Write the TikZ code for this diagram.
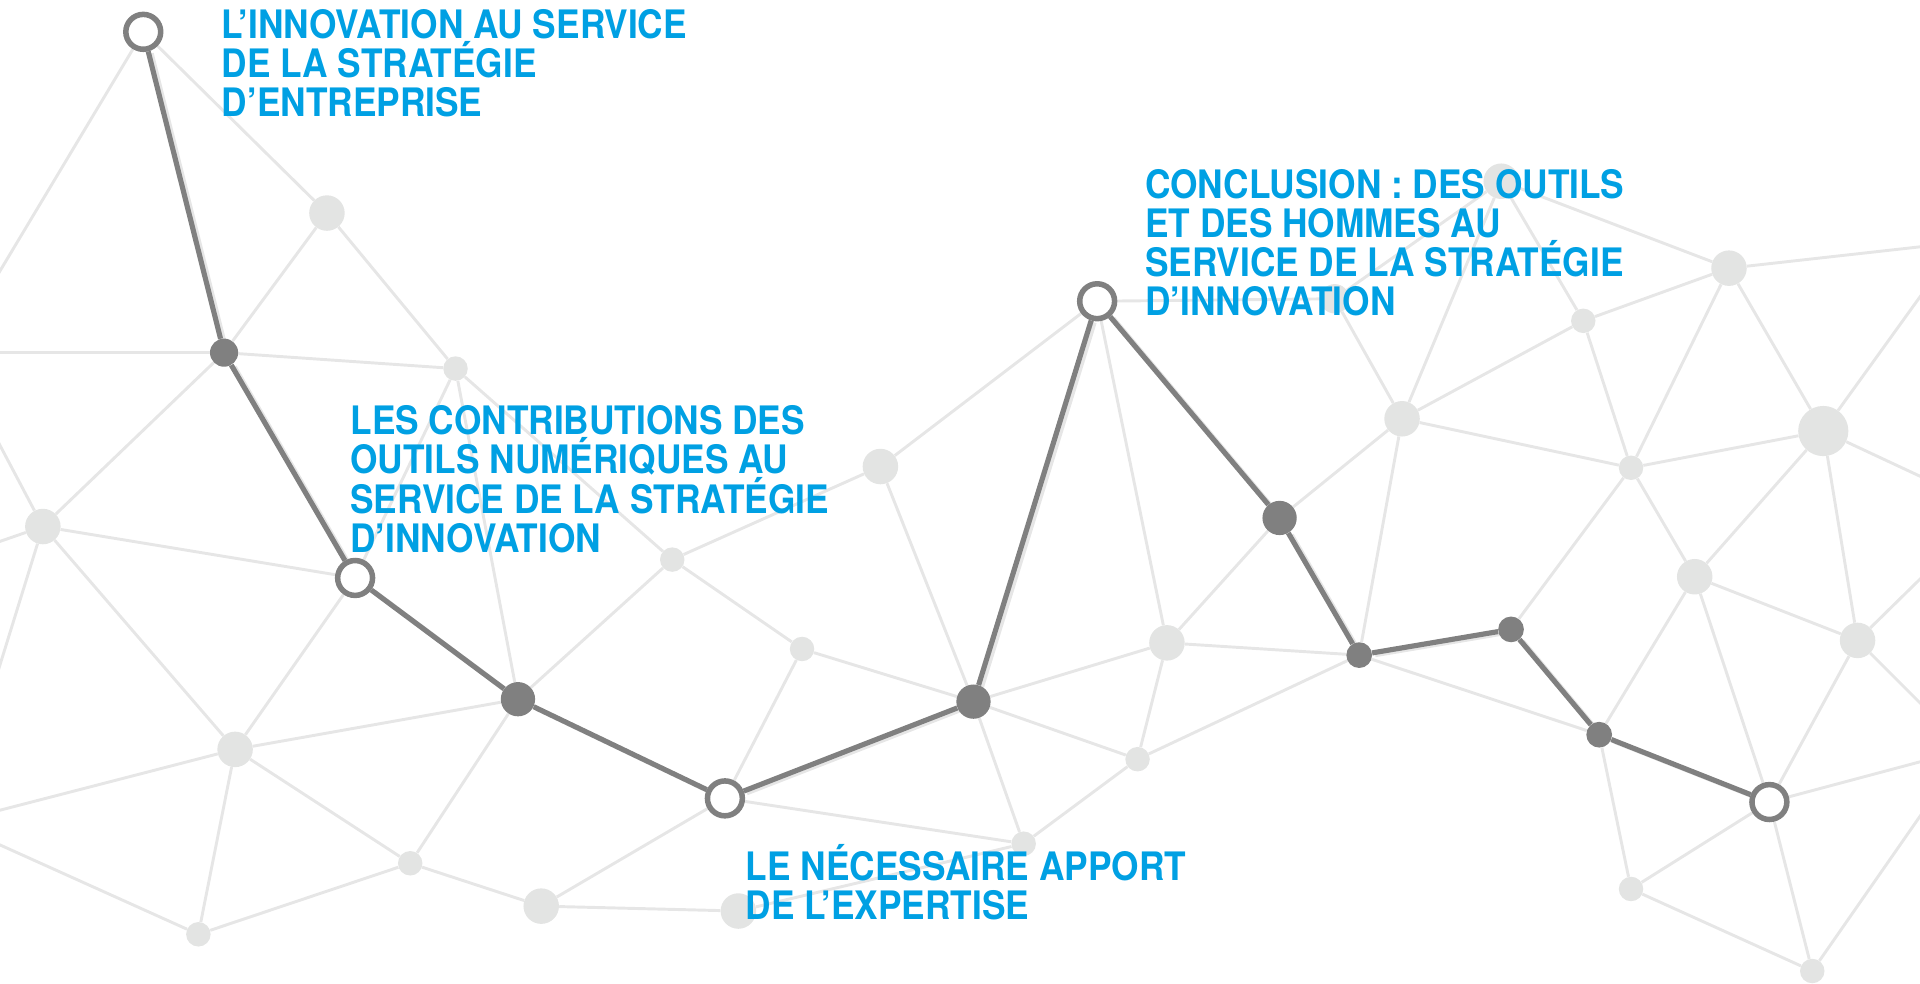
\documentclass[tikz,border=0pt]{standalone}
\usepackage{fontspec}
\newfontfamily\titlefont{TeX Gyre Heros}[FakeStretch=0.9]
\definecolor{pathgray}{RGB}{128,128,128}
\definecolor{linegray}{RGB}{230,230,230}
\definecolor{nodegray}{RGB}{227,228,227}
\definecolor{titleblue}{RGB}{0,160,227}
\pgfdeclarelayer{back}
\pgfsetlayers{back,main}
\begin{document}
\begin{tikzpicture}[x=1pt,y=-1pt,
    ring/.style={circle,draw=pathgray,line width=4.5pt,fill=white,inner sep=0pt,minimum size=28.5},
    hub/.style={circle,fill=pathgray,inner sep=0pt,minimum size=#1},
    bgdot/.style={circle,fill=nodegray,inner sep=0pt,minimum size=#1},
    title/.style={anchor=base west,inner sep=0pt,align=left,text=titleblue,
      font=\titlefont\bfseries\fontsize{32}{32}\selectfont}]
      \useasboundingbox (0,0) rectangle (1568,803);
      \clip (0,0) rectangle (1568,803);
      \path
        (117,26) node[ring] (0){}
        (183,288) node[hub=23] (1){}
        (290,472) node[ring] (2){}
        (423,571) node[hub=28] (3){}
        (592,652) node[ring] (4){}
        (795,573) node[hub=28] (5){}
        (896,246) node[ring] (6){}
        (1045,423) node[hub=28] (7){}
        (1110,535) node[hub=21] (8){}
        (1234,514) node[hub=21] (9){}
        (1306,600) node[hub=21] (10){}
        (1445,655) node[ring] (11){}
        (267,174) node[bgdot=29] (12){}
        (372,301) node[bgdot=20] (13){}
        (35,430) node[bgdot=29] (14){}
        (549,457) node[bgdot=20] (15){}
        (192,612) node[bgdot=29] (16){}
        (335,705) node[bgdot=20] (17){}
        (442,740) node[bgdot=29] (18){}
        (162,763) node[bgdot=20] (19){}
        (603,744) node[bgdot=29] (20){}
        (719,381) node[bgdot=29] (21){}
        (655,530) node[bgdot=20] (22){}
        (836,689) node[bgdot=20] (23){}
        (953,525) node[bgdot=29] (24){}
        (929,620) node[bgdot=20] (25){}
        (1090,244) node[bgdot=24] (26){}
        (1145,342) node[bgdot=29] (27){}
        (1226,148) node[bgdot=29] (28){}
        (1412,219) node[bgdot=29] (29){}
        (1293,262) node[bgdot=20] (30){}
        (1332,382) node[bgdot=20] (31){}
        (1489,352) node[bgdot=41] (32){}
        (1384,471) node[bgdot=29] (33){}
        (1517,523) node[bgdot=29] (34){}
        (1332,726) node[bgdot=20] (35){}
        (1480,793) node[bgdot=20] (36){}
        (-40,288) coordinate (37)
        (-40,456) coordinate (38)
        (-40,672) coordinate (39)
        (1600,198) coordinate (40)
        (1626,416) coordinate (41)
        (1606,612) coordinate (42);
      \begin{pgfonlayer}{back}
      \begin{scope}[draw=linegray,line width=2.4pt]
        \draw (0) to (12);
        \draw (0) to (37);
        \draw (12) to (1);
        \draw (12) to (13);
        \draw (1) to (37);
        \draw (1) to (13);
        \draw (1) to (14);
        \draw (13) to (2);
        \draw (13) to (3);
        \draw (13) to (15);
        \draw (14) to (37);
        \draw (14) to (38);
        \draw (14) to (39);
        \draw (14) to (2);
        \draw (14) to (16);
        \draw (16) to (2);
        \draw (16) to (3);
        \draw (16) to (39);
        \draw (16) to (19);
        \draw (16) to (17);
        \draw (19) to (39);
        \draw (19) to (17);
        \draw (17) to (18);
        \draw (17) to (3);
        \draw (18) to (4);
        \draw (18) to (20);
        \draw (20) to (23);
        \draw (3) to (15);
        \draw (15) to (21);
        \draw (15) to (22);
        \draw (22) to (5);
        \draw (22) to (4);
        \draw (4) to (23);
        \draw (5) to (21);
        \draw (5) to (24);
        \draw (5) to (25);
        \draw (5) to (23);
        \draw (21) to (6);
        \draw (6) to (26);
        \draw (6) to (24);
        \draw (24) to (7);
        \draw (24) to (8);
        \draw (24) to (25);
        \draw (25) to (8);
        \draw (25) to (23);
        \draw (26) to (28);
        \draw (26) to (27);
        \draw (27) to (28);
        \draw (27) to (30);
        \draw (27) to (31);
        \draw (27) to (7);
        \draw (27) to (8);
        \draw (28) to (30);
        \draw (28) to (29);
        \draw (29) to (40);
        \draw (29) to (30);
        \draw (29) to (31);
        \draw (29) to (32);
        \draw (30) to (31);
        \draw (31) to (32);
        \draw (31) to (9);
        \draw (31) to (33);
        \draw (32) to (40);
        \draw (32) to (41);
        \draw (32) to (33);
        \draw (32) to (34);
        \draw (33) to (34);
        \draw (33) to (10);
        \draw (33) to (11);
        \draw (34) to (41);
        \draw (34) to (42);
        \draw (34) to (11);
        \draw (11) to (42);
        \draw (11) to (35);
        \draw (11) to (36);
        \draw (35) to (10);
        \draw (35) to (36);
        \draw (36) to (42);
        \draw (8) to (10);
      \end{scope}
      \begin{scope}[transform canvas={shift={(2.5,1.5)}},draw=linegray,line width=4pt]
        \draw (0) -- (1) -- (2) -- (3) -- (4) -- (5) -- (6) -- (7) -- (8) -- (9) -- (10) -- (11);
      \end{scope}
      \end{pgfonlayer}
      \begin{scope}[draw=pathgray,line width=4.2pt]
        \draw (0) to (1);
        \draw (1) to (2);
        \draw (2) to (3);
        \draw (3) to (4);
        \draw (4) to (5);
        \draw (5) to (6);
        \draw (6) to (7);
        \draw (7) to (8);
        \draw (8) to (9);
        \draw (9) to (10);
        \draw (10) to (11);
      \end{scope}
      \node[title] (entreprise) at (181,95.5) {L’INNOVATION AU SERVICE\\DE LA STRATÉGIE\\D’ENTREPRISE};
      \node[title] (outils) at (286,451) {LES CONTRIBUTIONS DES\\OUTILS NUMÉRIQUES AU\\SERVICE DE LA STRATÉGIE\\D’INNOVATION};
      \node[title] (expertise) at (609,751) {LE NÉCESSAIRE APPORT\\DE L’EXPERTISE};
      \node[title] (conclusion) at (935,258) {CONCLUSION : DES OUTILS\\ET DES HOMMES AU\\SERVICE DE LA STRATÉGIE\\D’INNOVATION};
    \end{tikzpicture}
\end{document}
